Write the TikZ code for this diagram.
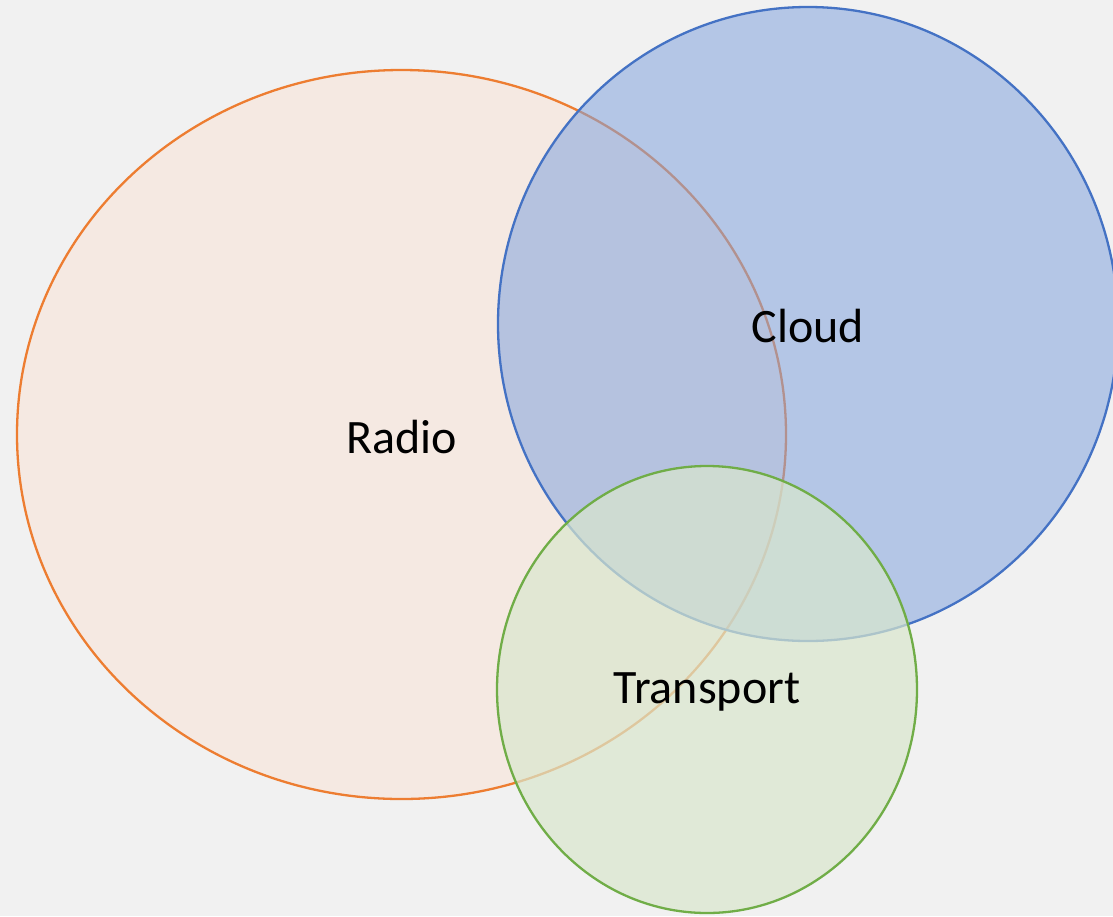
\documentclass[tikz,border=0pt]{standalone}
\usepackage{fontspec}
\setmainfont{Carlito}
\definecolor{bggrey}{HTML}{F1F1F1}
\definecolor{radiofill}{RGB}{247,231,220}
\definecolor{radioline}{HTML}{ED7D31}
\definecolor{cloudfill}{RGB}{130,163,221}
\definecolor{cloudline}{HTML}{4472C4}
\definecolor{transfill}{RGB}{217,231,205}
\definecolor{transline}{HTML}{70AD47}
\tikzset{
  setcircle/.style={ellipse, inner sep=0pt, line width=2.3pt, fill opacity=0.7, draw opacity=1},
  setlabel/.style={font=\fontsize{48}{52}\selectfont, text=black, inner sep=0pt}
}
\usetikzlibrary{shapes.geometric}
\begin{document}
\begin{tikzpicture}[x=1pt,y=-1pt]
\useasboundingbox (0,0) rectangle (1113,916);
\fill[bggrey] (0,0) rectangle (1113,916);
\node[setcircle, draw=radioline, fill=radiofill, minimum width=769pt, minimum height=729pt] (radio) at (401.5,434.5) {};
\node[setcircle, draw=cloudline, fill=cloudfill, fill opacity=0.55, minimum width=620pt, minimum height=634pt] (cloud) at (808,324) {};
\node[setcircle, draw=transline, fill=transfill, minimum width=420pt, minimum height=447pt] (transport) at (707,689.5) {};
\node[setlabel] (radiolabel) at (402,437) {Radio};
\node[setlabel] (cloudlabel) at (808,326) {Cloud};
\node[setlabel] (transportlabel) at (707,692) {Transport};
\end{tikzpicture}
\end{document}
